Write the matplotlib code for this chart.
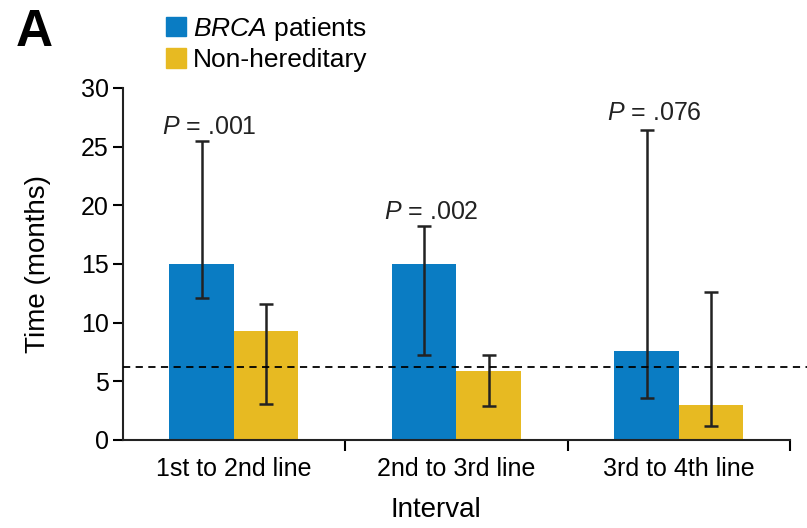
import numpy as np
import matplotlib.pyplot as plt
from matplotlib.patches import Patch

plt.rcParams['font.family'] = ['Liberation Sans', 'DejaVu Sans']
plt.rcParams['mathtext.fontset'] = 'custom'
plt.rcParams['mathtext.it'] = 'Liberation Sans:italic'
plt.rcParams['mathtext.rm'] = 'Liberation Sans'

intervals = ['1st to 2nd line', '2nd to 3rd line', '3rd to 4th line']
brca = [15.0, 15.0, 7.6]
brca_lo = [12.1, 7.2, 3.6]
brca_hi = [25.5, 18.2, 26.4]
nonhered = [9.3, 5.9, 3.0]
nonhered_lo = [3.1, 2.9, 1.2]
nonhered_hi = [11.6, 7.2, 12.6]
p_labels = ['.001', '.002', '.076']
p_y = [26.7, 19.4, 27.9]
ref_line = 6.2

blue = '#0a7cc3'
yellow = '#e7ba22'
ink = '#222222'

fig = plt.figure(figsize=(8.07, 5.28), dpi=100)
ax = fig.add_axes([0.152, 0.1667, 0.827, 0.6667])

x = np.arange(len(intervals))
w = 0.29

def bars(pos, vals, lo, hi, color):
    vals = np.array(vals)
    yerr = [vals - np.array(lo), np.array(hi) - vals]
    ax.bar(pos, vals, w, color=color, zorder=2)
    ax.errorbar(pos, vals, yerr=yerr, fmt='none', ecolor=ink, elinewidth=1.8,
                capsize=5, capthick=1.8, zorder=3)

bars(x - w / 2, brca, brca_lo, brca_hi, blue)
bars(x + w / 2, nonhered, nonhered_lo, nonhered_hi, yellow)

ax.axhline(ref_line, xmax=1.03, color='black', lw=1.3, ls=(0, (4, 3)),
           zorder=4, clip_on=False)

for xi, lab, py in zip(x, p_labels, p_y):
    ax.text(xi - w - 0.035, py, '$P$ = ' + lab, fontsize=18, ha='left',
            va='center', color=ink)

ax.set_xlim(-0.5, 2.5)
ax.set_ylim(0, 30)
ax.set_yticks(range(0, 31, 5))
ax.set_xticks(x)
ax.set_xticklabels(intervals, fontsize=18)
ax.set_xticks([0.5, 1.5, 2.5], minor=True)
ax.tick_params(axis='x', which='major', length=0, pad=12)
ax.tick_params(axis='x', which='minor', length=8, width=1.5, direction='out')
ax.tick_params(axis='y', labelsize=18, length=7, width=1.5, pad=3)
for s in ['top', 'right']:
    ax.spines[s].set_visible(False)
for s in ['left', 'bottom']:
    ax.spines[s].set_linewidth(1.5)
    ax.spines[s].set_color(ink)

ax.set_ylabel('Time (months)', fontsize=20)
ax.yaxis.set_label_coords(-0.108, 0.5)
ax.set_xlabel('Interval', fontsize=20, va='top')
ax.xaxis.set_label_coords(0.469, -0.163)

handles = [Patch(color=blue), Patch(color=yellow)]
fig.legend(handles, ['$\\it{BRCA}$ patients', 'Non-hereditary'],
           loc='upper left', bbox_to_anchor=(0.18, 1.012), frameon=False,
           fontsize=19, handlelength=0.75, handleheight=0.75, handletextpad=0.25,
           labelspacing=0.2, borderpad=0.3)

fig.text(0.02, 0.985, 'A', fontsize=37, fontweight='bold', va='top')

fig.savefig('out.png', dpi=100)
